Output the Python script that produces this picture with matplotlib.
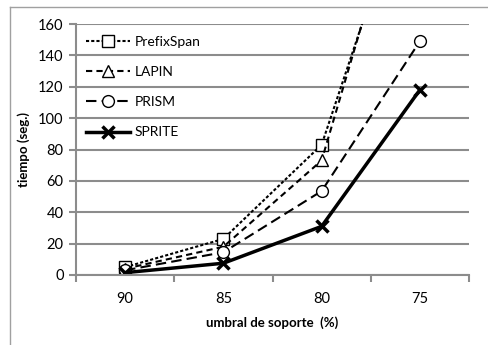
import matplotlib
matplotlib.use('Agg')
from matplotlib import pyplot as plt
from matplotlib.lines import Line2D
import numpy as np

plt.rcParams['font.family'] = ['Lato', 'DejaVu Sans']

# datos
umbrales = ['90', '85', '80', '75']
prefixspan = [5, 23, 83, 270]
lapin = [4, 18, 73, 285]
prism = [3, 14.5, 53.5, 149]
sprite = [1.5, 7.5, 31, 118]

series = [
    ('PrefixSpan', prefixspan, dict(linestyle=(0, (1.5, 1)), linewidth=1.5, marker='s', markersize=8.5)),
    ('LAPIN', lapin, dict(linestyle=(0, (3, 2)), linewidth=1.5, marker='^', markersize=8)),
    ('PRISM', prism, dict(linestyle=(0, (5, 2.5)), linewidth=1.5, marker='o', markersize=8.5)),
    ('SPRITE', sprite, dict(linestyle='-', linewidth=2.5, marker='x', markersize=9, markeredgewidth=2.5)),
]

fig = plt.figure(figsize=(4.88, 3.45), dpi=100)
ax = fig.add_axes([76 / 488, 1 - 275 / 345, (469 - 76) / 488, (275 - 24) / 345])

x = np.arange(len(umbrales))
for name, vals, st in series:
    ax.plot(x, vals, color='black', markerfacecolor='white', markeredgecolor='black',
            label=name, clip_on=True, **st)

ax.set_xlim(-0.5, len(umbrales) - 0.5)
ax.set_ylim(0, 160)
ax.set_yticks(np.arange(0, 161, 20))
ax.yaxis.grid(True, color='#8c8c8c', linewidth=1.5)
ax.set_axisbelow(True)

ax.set_xticks(np.arange(-0.5, len(umbrales), 1))
ax.set_xticklabels([])
ax.set_xticks(x, minor=True)
ax.set_xticklabels(umbrales, minor=True)
ax.tick_params(axis='x', which='major', direction='out', length=5, width=1.5, color='#8c8c8c')
ax.tick_params(axis='x', which='minor', length=0, pad=12, labelsize=10.5)
ax.tick_params(axis='y', direction='out', length=5, width=1.5, color='#8c8c8c', labelsize=10.5, pad=4)

for s in ['top', 'right']:
    ax.spines[s].set_visible(False)
for s in ['left', 'bottom']:
    ax.spines[s].set_color('#8c8c8c')
    ax.spines[s].set_linewidth(1.5)

ax.set_ylabel('tiempo (seg.)', fontweight='bold', fontsize=9.5, labelpad=6)
ax.set_xlabel('umbral de soporte  (%)', fontweight='bold', fontsize=9.5, labelpad=8)

ax.legend(loc='upper left', bbox_to_anchor=(0.0, 0.99), frameon=False, fontsize=10,
          handlelength=3.2, handletextpad=0.3, labelspacing=1.3, borderaxespad=0.3)

# borde del area del grafico
fig.add_artist(Line2D([10 / 488, 10 / 488], [0, 1 - 7 / 345], color='#a0a0a0', linewidth=1,
                      transform=fig.transFigure))
fig.add_artist(Line2D([10 / 488, 1], [1 - 7 / 345, 1 - 7 / 345], color='#a0a0a0', linewidth=1,
                      transform=fig.transFigure))

plt.savefig('out.png', dpi=100)
plt.close()
